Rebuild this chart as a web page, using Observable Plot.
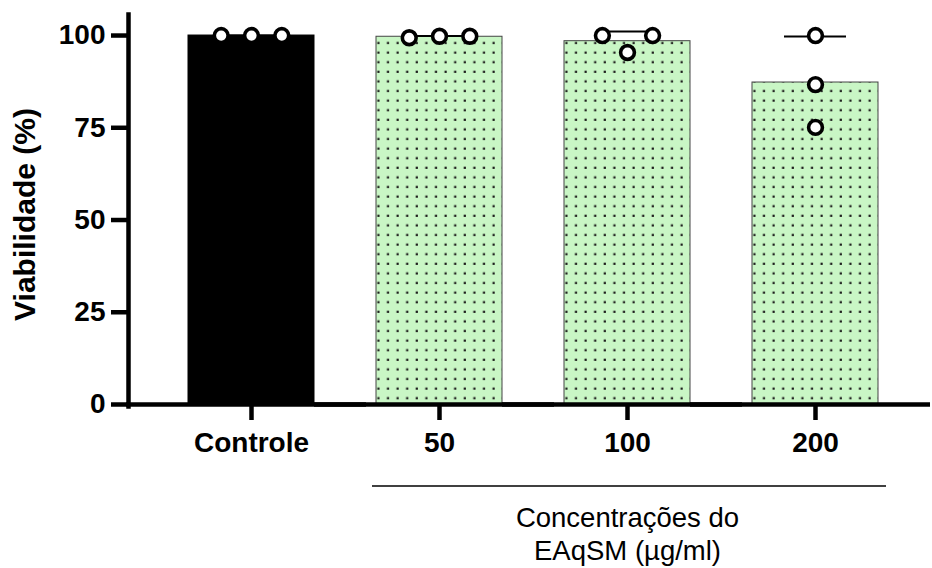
<!DOCTYPE html>
<html>
<head>
<meta charset="utf-8">
<script src="https://cdn.jsdelivr.net/npm/d3@7"></script>
<script src="https://cdn.jsdelivr.net/npm/@observablehq/plot@0.6"></script>
<style>
  html, body { margin: 0; padding: 0; background: #fff; }
</style>
</head>
<body>
<div id="chart"></div>
<script>
// ---- data ----
const groups = ["Controle", "50", "100", "200"];
const controle = [100, 100, 100];
const c50 = [99.8, 99.4, 99.8];
const c100 = [95.4, 100, 100];
const c200 = [100, 86.7, 75.1];
const yTicks = [0, 25, 50, 75, 100];
const yLabel = "Viabilidade (%)";
const xCaption = "Concentrações do\nEAqSM (µg/ml)";

const replicates = [controle, c50, c100, c200];
const reps = groups.flatMap((g, i) => replicates[i].map(v => ({group: g, v})));
const stats = groups.map((g, i) => {
  const vals = replicates[i];
  const mean = d3.mean(vals);
  const sd = d3.deviation(vals) || 0;
  return {group: g, mean, hi: mean + sd};
});

const AXW = 4.5;
const AX_DX = -60; // y axis sits left of the first bar
const chart = Plot.plot({
  width: 932,
  height: 568,
  marginTop: 14,
  marginBottom: 164,
  marginLeft: 127,
  marginRight: 1,
  style: {fontFamily: "'Liberation Sans', Arial, sans-serif", color: "black", background: "white"},
  fx: {domain: groups, range: [156, 909], paddingInner: 0.33, paddingOuter: 0.165},
  y: {domain: [0, 105.7]},
  marks: [
    Plot.barY(stats.filter(d => d.group === "Controle"), {fx: "group", y: "mean", fill: "black", stroke: "black"}),
    Plot.barY(stats.filter(d => d.group !== "Controle"), {fx: "group", y: "mean", fill: "url(#dots)", stroke: "#444", strokeWidth: 1}),
    Plot.ruleX(stats, {fx: "group", y1: "mean", y2: "hi", stroke: "black", strokeWidth: 2}),
    Plot.ruleY(stats, {fx: "group", y: "hi", insetLeft: 32, insetRight: 32, stroke: "black", strokeWidth: 2}),
    Plot.dot(reps, Plot.dodgeX({anchor: "middle", padding: 16.5}, {fx: "group", y: "v", r: 6.9, fill: "white", stroke: "black", strokeWidth: 3.6})),
    Plot.ruleY([0], {stroke: "black", strokeWidth: AXW, insetLeft: -62, insetRight: -52}),
    Plot.frame({anchor: "left", facetAnchor: "left", dx: AX_DX, insetBottom: -2, stroke: "black", strokeWidth: AXW}),
    Plot.axisY({ticks: yTicks, dx: AX_DX, tickSize: 17, tickPadding: 6, strokeWidth: AXW, fontSize: 28, fontWeight: "bold", label: null}),
    Plot.text([yLabel], {facetAnchor: "left", frameAnchor: "left", rotate: -90, textAnchor: "middle", lineAnchor: "top", dx: -175, dy: 5, fontSize: 30, fontWeight: "bold", fill: "black"}),
    Plot.axisFx({anchor: "bottom", tickSize: 16, tickPadding: 12, strokeWidth: AXW, fontSize: 28, fontWeight: "bold", label: null}),
    Plot.text([xCaption], {fx: () => "100", frameAnchor: "bottom", lineAnchor: "top", dy: 99, fontSize: 27.5, lineHeight: 1.2, fill: "black"})
  ]
});

// dotted fill pattern for treatment bars
const svg = d3.select(chart);
const defs = svg.insert("defs", ":first-child");
const pat = defs.append("pattern").attr("id", "dots")
  .attr("patternUnits", "userSpaceOnUse").attr("width", 9.6).attr("height", 9.6);
pat.append("rect").attr("width", 9.6).attr("height", 9.6).attr("fill", "#c9f6c5");
pat.append("rect").attr("x", 3.5).attr("y", 3.5).attr("width", 2.2).attr("height", 2.2).attr("fill", "#1a1a1a");

// bracket under the concentration groups
const fx = chart.scale("fx");
const ys = chart.scale("y");
svg.append("line")
  .attr("x1", fx.apply("50") - 4)
  .attr("x2", fx.apply("200") + fx.bandwidth + 8)
  .attr("y1", ys.apply(0) + 82).attr("y2", ys.apply(0) + 82)
  .attr("stroke", "black").attr("stroke-width", 1.5);

document.getElementById("chart").appendChild(chart);
</script>
</body>
</html>
